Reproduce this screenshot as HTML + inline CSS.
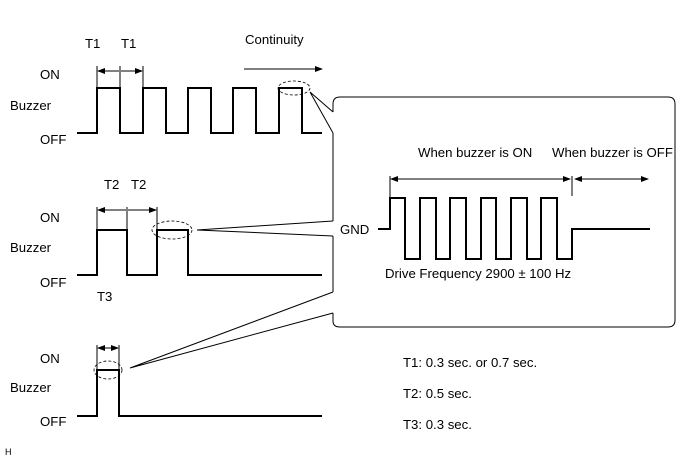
<!DOCTYPE html>
<html><head><style>body{margin:0;background:#fff}svg{display:block}text{font-family:"Liberation Sans",sans-serif;font-size:13.2px;fill:#000}</style></head><body>
<svg width="691" height="465" viewBox="0 0 691 465">
<defs><marker id="a" markerWidth="8" markerHeight="6" refX="7" refY="3" orient="auto-start-reverse" markerUnits="userSpaceOnUse"><path d="M0,0 L8,3 L0,6z" fill="#000"/></marker></defs>
<g fill="none" stroke="#000">
<path stroke-width="2" d="M77,133H97V88H120V133H143V88H166V133H188V88H211V133H233V88H256V133H279V88H302V133H322"/>
<path stroke-width="1" d="M97,66V88M120,66V88M143,66V88"/>
<path stroke-width="1" d="M98,71H119M121,71H142" marker-start="url(#a)" marker-end="url(#a)"/>
<path stroke-width="1" d="M244,69H322" marker-end="url(#a)"/>
<ellipse cx="294" cy="88" rx="16" ry="7" stroke-dasharray="3,2" stroke-width="0.8"/>
<path stroke-width="2" d="M77,275H97V230H127V275H157V230H188V275H322"/>
<path stroke-width="1" d="M97,207V230M127,207V230M157,207V230"/>
<path stroke-width="1" d="M98,210H126M128,210H156" marker-start="url(#a)" marker-end="url(#a)"/>
<ellipse cx="172" cy="230" rx="20" ry="9" stroke-dasharray="3,2" stroke-width="0.8"/>
<path stroke-width="2" d="M77,416H97V370H119V416H322"/>
<path stroke-width="1" d="M97,345V370M119,345V370"/>
<path stroke-width="1" d="M98,348H118" marker-start="url(#a)" marker-end="url(#a)"/>
<ellipse cx="108" cy="370" rx="14" ry="9" stroke-dasharray="3,2" stroke-width="0.8"/>
<path stroke-width="1" d="M333,112V104Q333,97 340,97H668Q675,97 675,104V320Q675,327 668,327H340Q333,327 333,321V313M333,292V236M333,221V133"/>
<path stroke-width="1" d="M310,92L333,112M310,92L333,133M197,230L333,221M197,230L333,236M130,368L333,292M130,368L333,313"/>
<path stroke-width="2" d="M378,229H390V198H405V259H420V198H436V259H450V198H466V259H481V198H496V259H511V198H527V259H541V198H557V259H572V229H650"/>
<path stroke-width="1" d="M390,176V198M572,176V196"/>
<path stroke-width="1" d="M391,179H570" marker-start="url(#a)" marker-end="url(#a)"/>
<path stroke-width="1" d="M575,179H648" marker-start="url(#a)" marker-end="url(#a)"/>
</g>
<text x="245" y="44">Continuity</text>
<text x="85" y="48">T1</text><text x="121" y="48">T1</text>
<text x="40" y="79">ON</text><text x="10" y="110">Buzzer</text><text x="40" y="144">OFF</text>
<text x="104" y="189">T2</text><text x="131" y="189">T2</text>
<text x="40" y="222">ON</text><text x="10" y="252">Buzzer</text><text x="40" y="287">OFF</text>
<text x="97" y="301">T3</text>
<text x="40" y="363">ON</text><text x="10" y="392">Buzzer</text><text x="40" y="426">OFF</text>
<text x="5" y="455" style="font-size:9px">H</text>
<text x="418" y="157">When buzzer is ON</text>
<text x="552" y="157">When buzzer is OFF</text>
<text x="340" y="234">GND</text>
<text x="385" y="278">Drive Frequency 2900 ± 100 Hz</text>
<text x="403" y="367">T1: 0.3 sec. or 0.7 sec.</text>
<text x="403" y="398">T2: 0.5 sec.</text>
<text x="403" y="429">T3: 0.3 sec.</text>
</svg>
</body></html>
